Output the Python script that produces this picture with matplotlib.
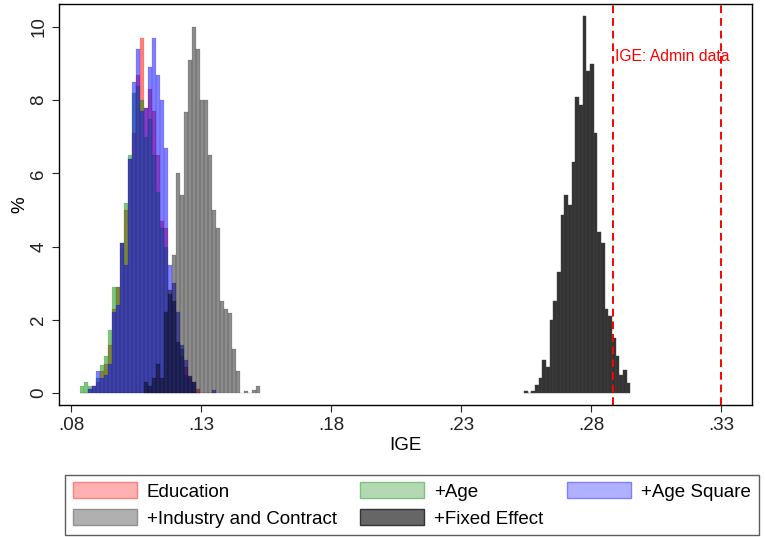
import matplotlib.pyplot as plt
import numpy as np
from matplotlib.patches import Patch

plt.rcParams['font.family'] = ['Liberation Sans', 'DejaVu Sans']

# bootstrap distributions of the IGE, share of draws (%) per bin
bin_w = 0.00154
first_bin = 0.0835

edu_pct = [0, 0, 0.1, 0.2, 0.3, 0.6, 0.8, 1.3, 2.3, 2.9,
           4.1, 5.0, 6.4, 7.1, 8.7, 9.7, 7.8, 8.3, 7.7, 6.5,
           4.7, 4.5, 2.7, 2.5, 1.4, 1.0, 0.7, 0.45, 0.3, 0.1]
age_pct = [0.2, 0.3, 0.2, 0.2, 0.4, 0.77, 1.0, 1.72, 2.9, 2.9,
           4.1, 5.2, 6.5, 8.2, 8.4, 8.0, 7.0, 7.5, 6.5, 5.5,
           4.5, 4.0, 2.7, 2.5, 1.4, 1.2, 0.5, 0.4, 0.3, 0]
agesq_pct = [0, 0, 0.1, 0.2, 0.6, 0.4, 0.5, 0.8, 2.2, 2.4,
             4.1, 3.5, 6.4, 8.5, 9.4, 7.7, 7.8, 8.9, 9.7, 8.7,
             8.0, 6.7, 3.5, 3.0, 2.2, 1.3, 0.9, 0.45, 0.3, 0,
             0, 0, 0, 0.08]
industry_start = 16  # first bin of this series on the same grid
industry_pct = [0.3, 0.2, 0.4, 0.8, 0.4, 2.2, 2.8, 3.77, 6.0, 5.41,
                7.69, 9.1, 10.0, 9.39, 8.0, 8.0, 6.5, 5.0, 4.5, 2.5,
                2.3, 2.18, 1.19, 0.6, 0, 0.05, 0, 0.08, 0.2]

fe_first_bin = 0.25423
fe_bin_w = 0.00141
fe_pct = [0.05, 0, 0.05, 0.22, 0.4, 0.9, 0.7, 2.0, 2.5, 3.3,
          4.85, 5.4, 5.14, 6.3, 8.1, 7.87, 10.3, 8.8, 9.0, 7.1,
          4.4, 4.1, 2.3, 2.1, 1.5, 1.0, 0.5, 0.63, 0.28]

admin_ige = [0.2885, 0.33]
labels = ['Education', '+Age', '+Age Square', '+Industry and Contract', '+Fixed Effect']
xticks = [0.08, 0.13, 0.18, 0.23, 0.28, 0.33]


def draw(ax, start, w, vals, face, edge, lw=0.3):
    lefts = start + w * np.arange(len(vals))
    ax.bar(lefts, vals, width=w, align='edge', color=face, edgecolor=edge, linewidth=lw)


fig = plt.figure(figsize=(7.65, 5.37), dpi=100)
ax = fig.add_axes([0.0771, 0.2458, 0.906, 0.7468])

draw(ax, first_bin, bin_w, edu_pct, (1, 0, 0, 0.5), (1, 0, 0, 0.25))
draw(ax, first_bin, bin_w, age_pct, (0, 0.55, 0, 0.5), (0, 0.55, 0, 0.25))
draw(ax, first_bin, bin_w, agesq_pct, (0, 0, 1, 0.5), (0, 0, 1, 0.25))
draw(ax, first_bin + industry_start * bin_w, bin_w, industry_pct, (0, 0, 0, 0.45), (0, 0, 0, 0.3))
draw(ax, fe_first_bin, fe_bin_w, fe_pct, (0.2, 0.2, 0.2, 1), (0.27, 0.27, 0.27, 1), 0.3)

for v in admin_ige:
    ax.axvline(v, color='red', linestyle=(0, (4, 2.5)), linewidth=1.4)
ax.text(admin_ige[0] + 0.0008, 9.2, 'IGE: Admin data', color='red', fontsize=11.3, va='center')

ax.set_xlim(0.0754, 0.3419)
ax.set_ylim(-0.33, 10.63)
ax.set_xticks(xticks)
ax.set_xticklabels(['.' + f'{t:.2f}'.split('.')[1] for t in xticks])
ax.set_yticks([0, 2, 4, 6, 8, 10])
ax.set_yticklabels(['0', '2', '4', '6', '8', '10'], rotation=90, va='center')
ax.tick_params(labelsize=13.5, length=5, width=0.8, colors='#222222')
ax.set_xlabel('IGE', fontsize=13.5, labelpad=2)
ax.set_ylabel('%', fontsize=13.5, labelpad=1)
for s in ax.spines.values():
    s.set_linewidth(1)

handles = [
    Patch(facecolor='#ffb0b0', edgecolor='#ff8080', label=labels[0]),
    Patch(facecolor='#b0b0b0', edgecolor='#909090', label=labels[3]),
    Patch(facecolor='#b3d9b3', edgecolor='#80c080', label=labels[1]),
    Patch(facecolor='#666666', edgecolor='#333333', label=labels[4]),
    Patch(facecolor='#b0b0ff', edgecolor='#8080ff', label=labels[2]),
]
leg = fig.legend(handles=handles, ncol=3, loc='lower left', bbox_to_anchor=(0.083, 0.0),
                 fontsize=13.5, frameon=True, fancybox=False, edgecolor='#333333',
                 handlelength=3.4, handleheight=0.95, handletextpad=0.55,
                 columnspacing=1.25, labelspacing=0.45, borderpad=0.4, borderaxespad=0.1)
leg.get_frame().set_linewidth(1)

plt.savefig('out.png', dpi=100)
